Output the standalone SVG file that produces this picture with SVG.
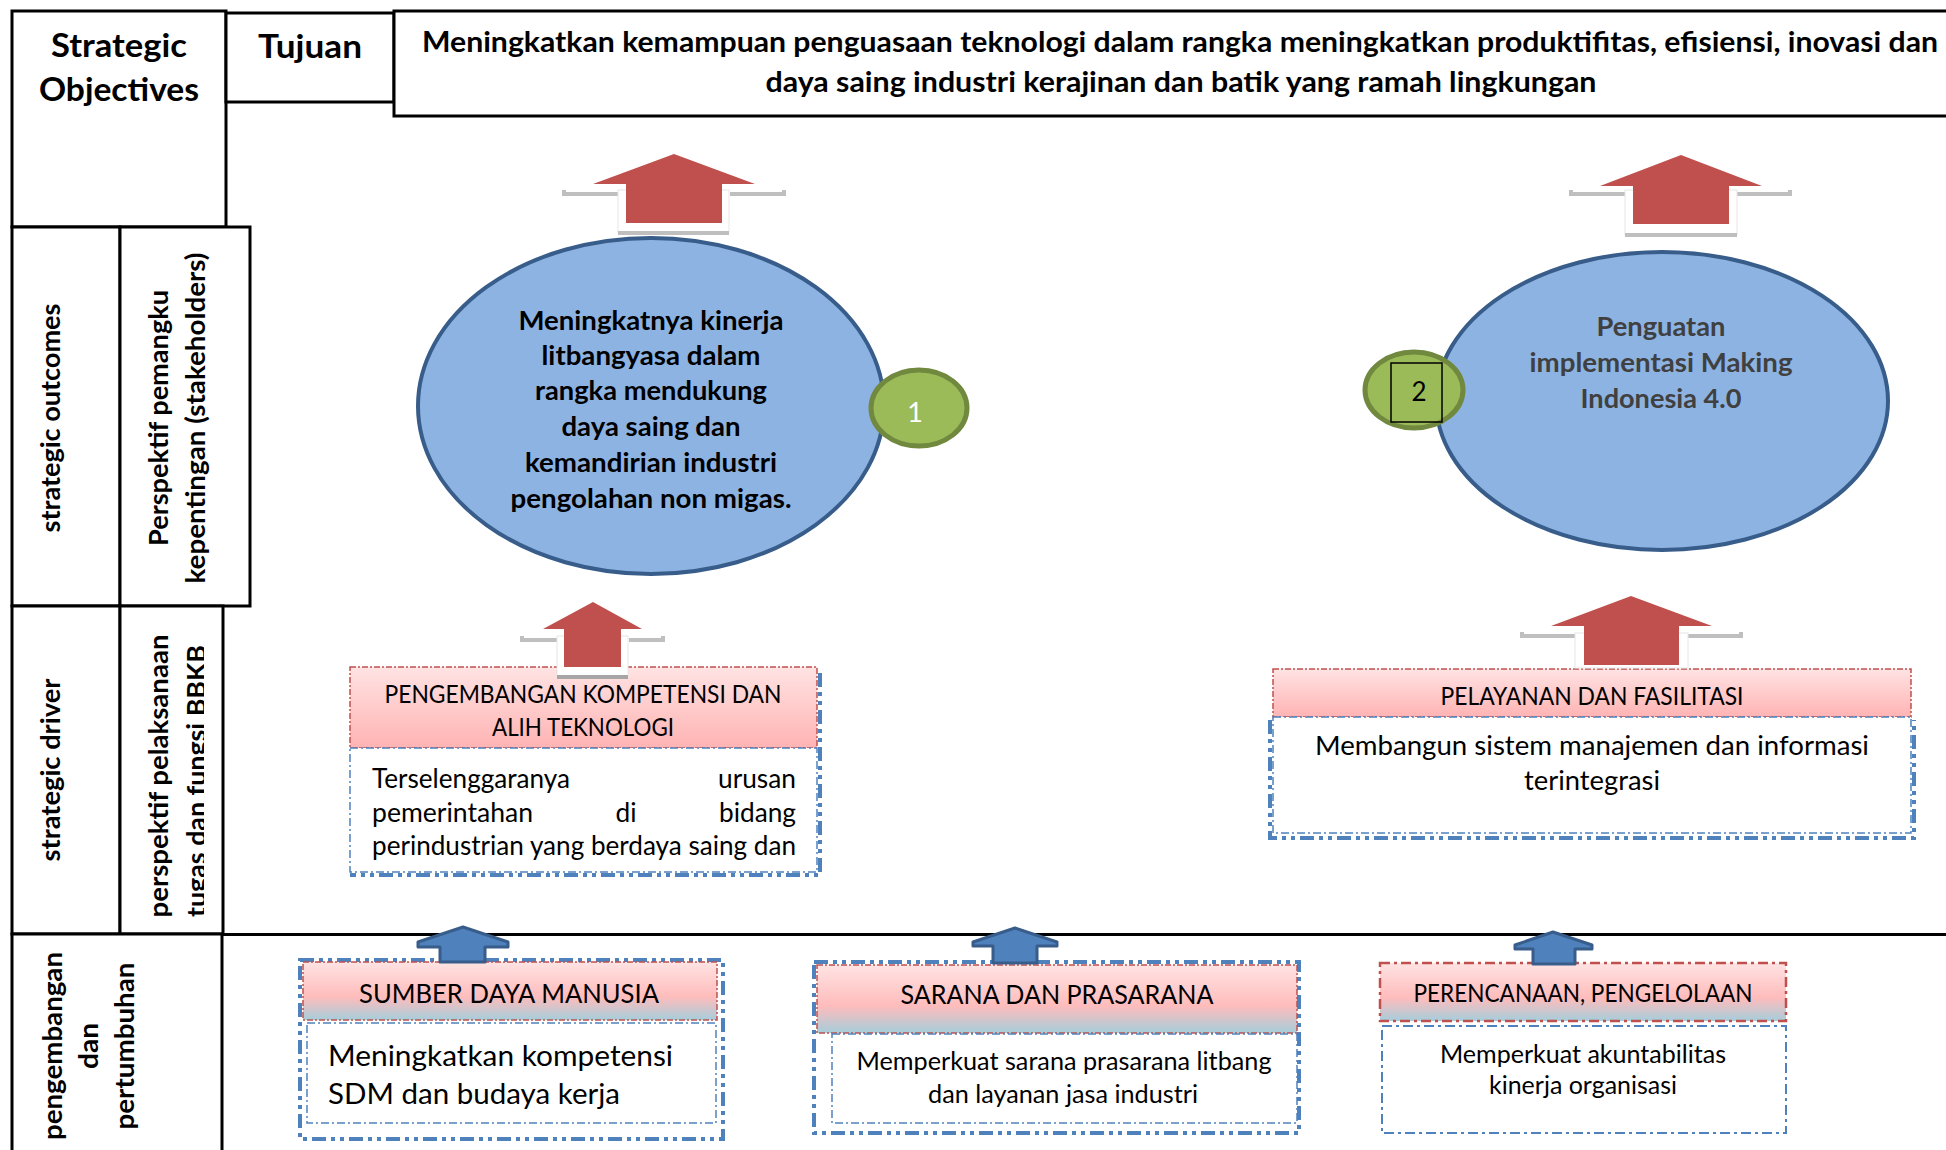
<svg xmlns="http://www.w3.org/2000/svg" width="1946" height="1150" viewBox="0 0 1946 1150">
<style>
text{font-family:Lato,"Liberation Sans",Arial,sans-serif;fill:#000}
.b{font-weight:bold}
.r{font-weight:normal}
.grid{fill:#fff;stroke:#000;stroke-width:3}
.ell{fill:#8DB3E2;stroke:#385D8A;stroke-width:4}
.badge{fill:#9BBB59;stroke:#71893F;stroke-width:5}
.ra{fill:#C0504D}
.sh{fill:none;stroke:#BFBFBF;stroke-width:4}
.wb{fill:#fff;stroke:#E6E6E6;stroke-width:1}
.thin{fill:#fff;stroke:#4F81BD;stroke-width:1.5;stroke-dasharray:8 3 2 3}
.redhd{stroke:#C0504D;stroke-width:1.5;stroke-dasharray:6 2 2 2}
.thick{fill:none;stroke:#4F81BD;stroke-width:4;stroke-dasharray:14 5 4 5 4 5}
.ba{fill:#4F81BD;stroke:#385D8A;stroke-width:3;stroke-linejoin:round}
</style>
<defs>
<linearGradient id="pk" x1="0" y1="0" x2="0" y2="1"><stop offset="0" stop-color="#FFE3E3"/><stop offset="1" stop-color="#FFB3B3"/></linearGradient>
<linearGradient id="pkb" x1="0" y1="0" x2="0" y2="1"><stop offset="0" stop-color="#FFE3E3"/><stop offset="0.6" stop-color="#FFBCBC"/><stop offset="1" stop-color="#A5CEDB"/></linearGradient>
<clipPath id="clipPel"><rect x="120" y="606" width="84" height="328"/></clipPath>
</defs>
<rect width="1946" height="1150" fill="#fff"/>

<g id="cell-strategic-objectives">
<rect class="grid" x="12" y="11" width="214" height="216"/>
<text class="b" x="119" y="57" font-size="33" text-anchor="middle" textLength="136" lengthAdjust="spacingAndGlyphs">Strategic</text>
<text class="b" x="119" y="101" font-size="33" text-anchor="middle" textLength="160" lengthAdjust="spacingAndGlyphs">Objectives</text>
</g>
<g id="cell-tujuan">
<rect class="grid" x="226" y="13" width="168" height="89"/>
<text class="b" x="310" y="58" font-size="32.5" text-anchor="middle" textLength="104" lengthAdjust="spacingAndGlyphs">Tujuan</text>
</g>
<g id="goal">
<rect class="grid" x="394" y="11" width="1560" height="105"/>
<text class="b" x="1180" y="52" font-size="29" text-anchor="middle" textLength="1516" lengthAdjust="spacingAndGlyphs">Meningkatkan kemampuan penguasaan teknologi dalam rangka meningkatkan produktifitas, efisiensi, inovasi dan</text>
<text class="b" x="1181" y="92" font-size="29" text-anchor="middle" textLength="831" lengthAdjust="spacingAndGlyphs">daya saing industri kerajinan dan batik yang ramah lingkungan</text>
</g>
<g id="cell-strategic-outcomes">
<rect class="grid" x="12" y="227" width="108" height="379"/>
<text class="b" font-size="26.5" text-anchor="middle" transform="translate(60,418) rotate(-90)" textLength="229" lengthAdjust="spacingAndGlyphs">strategic outcomes</text>
</g>
<g id="cell-perspektif-stakeholders">
<rect class="grid" x="120" y="227" width="130" height="379"/>
<text class="b" font-size="26.5" text-anchor="middle" transform="translate(168,418) rotate(-90)" textLength="256" lengthAdjust="spacingAndGlyphs">Perspektif pemangku</text>
<text class="b" font-size="26.5" text-anchor="middle" transform="translate(205,418) rotate(-90)" textLength="331" lengthAdjust="spacingAndGlyphs">kepentingan (stakeholders)</text>
</g>
<g id="cell-strategic-driver">
<rect class="grid" x="12" y="606" width="108" height="328"/>
<text class="b" font-size="26.5" text-anchor="middle" transform="translate(60,770) rotate(-90)" textLength="183" lengthAdjust="spacingAndGlyphs">strategic driver</text>
</g>
<g id="cell-perspektif-pelaksanaan">
<rect class="grid" x="120" y="606" width="103" height="328"/>
<g clip-path="url(#clipPel)">
<text class="b" font-size="26.5" text-anchor="middle" transform="translate(168,776) rotate(-90)" textLength="283" lengthAdjust="spacingAndGlyphs">perspektif pelaksanaan</text>
<text class="b" font-size="26.5" text-anchor="middle" transform="translate(206,781) rotate(-90)" textLength="272" lengthAdjust="spacingAndGlyphs">tugas dan fungsi BBKB</text>
</g>
</g>
<g id="cell-pengembangan">
<rect class="grid" x="12" y="934" width="210" height="230"/>
<text class="b" font-size="26.5" text-anchor="middle" transform="translate(62,1046) rotate(-90)" textLength="188" lengthAdjust="spacingAndGlyphs">pengembangan</text>
<text class="b" font-size="26.5" text-anchor="middle" transform="translate(98,1046) rotate(-90)" textLength="46" lengthAdjust="spacingAndGlyphs">dan</text>
<text class="b" font-size="26.5" text-anchor="middle" transform="translate(134,1046) rotate(-90)" textLength="167" lengthAdjust="spacingAndGlyphs">pertumbuhan</text>
</g>
<g id="row-divider">
<line x1="222" y1="934.5" x2="1946" y2="934.5" stroke="#000" stroke-width="3"/>
</g>

<g id="outcome-1">
<ellipse class="ell" cx="651" cy="406" rx="233" ry="168"/>
<text class="b" font-size="26.5" text-anchor="middle" x="651" y="330" textLength="265" lengthAdjust="spacingAndGlyphs">Meningkatnya kinerja</text>
<text class="b" font-size="26.5" text-anchor="middle" x="651" y="365" textLength="219" lengthAdjust="spacingAndGlyphs">litbangyasa dalam</text>
<text class="b" font-size="26.5" text-anchor="middle" x="651" y="400" textLength="232" lengthAdjust="spacingAndGlyphs">rangka mendukung</text>
<text class="b" font-size="26.5" text-anchor="middle" x="651" y="436" textLength="179" lengthAdjust="spacingAndGlyphs">daya saing dan</text>
<text class="b" font-size="26.5" text-anchor="middle" x="651" y="472" textLength="252" lengthAdjust="spacingAndGlyphs">kemandirian industri</text>
<text class="b" font-size="26.5" text-anchor="middle" x="651" y="508" textLength="281" lengthAdjust="spacingAndGlyphs">pengolahan non migas.</text>
<ellipse class="badge" cx="919" cy="408" rx="48" ry="38"/>
<text class="r" font-size="27" text-anchor="middle" x="915" y="422" style="fill:#fff">1</text>
</g>

<g id="outcome-2">
<ellipse class="ell" cx="1662" cy="401" rx="226" ry="149"/>
<text class="b" font-size="26.5" text-anchor="middle" x="1661" y="336" textLength="129" lengthAdjust="spacingAndGlyphs" style="fill:#404040">Penguatan</text>
<text class="b" font-size="26.5" text-anchor="middle" x="1661" y="372" textLength="263" lengthAdjust="spacingAndGlyphs" style="fill:#404040">implementasi Making</text>
<text class="b" font-size="26.5" text-anchor="middle" x="1661" y="408" textLength="161" lengthAdjust="spacingAndGlyphs" style="fill:#404040">Indonesia 4.0</text>
<ellipse class="badge" cx="1414" cy="390" rx="49" ry="38"/>
<rect x="1391" y="363" width="51" height="59" fill="none" stroke="#000" stroke-width="1.5"/>
<text class="r" font-size="26" text-anchor="middle" x="1419" y="401">2</text>
</g>

<g id="driver-1">
<rect x="350" y="667" width="467" height="81" fill="url(#pk)" class="redhd"/>
<rect class="thin" x="350" y="748" width="467" height="124"/>
<path class="thick" d="M820,673 V875 H350"/>
<text class="r" font-size="24.5" text-anchor="middle" x="583" y="703" textLength="397" lengthAdjust="spacingAndGlyphs">PENGEMBANGAN KOMPETENSI DAN</text>
<text class="r" font-size="24.5" text-anchor="middle" x="583" y="736" textLength="182" lengthAdjust="spacingAndGlyphs">ALIH TEKNOLOGI</text>
<text class="r" font-size="26" x="372" y="788" textLength="198" lengthAdjust="spacingAndGlyphs">Terselenggaranya</text>
<text class="r" font-size="26" x="796" y="788" text-anchor="end" textLength="78" lengthAdjust="spacingAndGlyphs">urusan</text>
<text class="r" font-size="26" x="372" y="822" textLength="161" lengthAdjust="spacingAndGlyphs">pemerintahan</text>
<text class="r" font-size="26" x="626" y="822" text-anchor="middle" textLength="21" lengthAdjust="spacingAndGlyphs">di</text>
<text class="r" font-size="26" x="796" y="822" text-anchor="end" textLength="77" lengthAdjust="spacingAndGlyphs">bidang</text>
<text class="r" font-size="26" x="372" y="855" textLength="424" lengthAdjust="spacingAndGlyphs">perindustrian yang berdaya saing dan</text>
</g>

<g id="driver-2">
<rect x="1273" y="669" width="638" height="48" fill="url(#pk)" class="redhd"/>
<rect class="thin" x="1273" y="717" width="638" height="116"/>
<path class="thick" d="M1270,720 V838 H1914 V720"/>
<text class="r" font-size="24.5" text-anchor="middle" x="1592" y="705" textLength="303" lengthAdjust="spacingAndGlyphs">PELAYANAN DAN FASILITASI</text>
<text class="r" font-size="26.5" text-anchor="middle" x="1592" y="755" textLength="554" lengthAdjust="spacingAndGlyphs">Membangun sistem manajemen dan informasi</text>
<text class="r" font-size="26.5" text-anchor="middle" x="1592" y="790" textLength="136" lengthAdjust="spacingAndGlyphs">terintegrasi</text>
</g>

<g id="growth-sdm">
<rect class="thick" x="300" y="960" width="423" height="179"/>
<rect x="303" y="962" width="414" height="58" fill="url(#pkb)" class="redhd"/>
<rect class="thin" x="307" y="1023" width="409" height="100"/>
<text class="r" font-size="26.5" text-anchor="middle" x="509" y="1003" textLength="300" lengthAdjust="spacingAndGlyphs">SUMBER DAYA MANUSIA</text>
<text class="r" font-size="29.5" x="328" y="1066" textLength="345" lengthAdjust="spacingAndGlyphs">Meningkatkan kompetensi</text>
<text class="r" font-size="29.5" x="328" y="1104" textLength="292" lengthAdjust="spacingAndGlyphs">SDM dan budaya kerja</text>
</g>

<g id="growth-sarana">
<rect class="thick" x="814" y="962" width="485" height="171"/>
<rect x="817" y="965" width="480" height="68" fill="url(#pkb)" class="redhd"/>
<rect class="thin" x="832" y="1034" width="465" height="89"/>
<text class="r" font-size="26.5" text-anchor="middle" x="1057" y="1004" textLength="313" lengthAdjust="spacingAndGlyphs">SARANA DAN PRASARANA</text>
<text class="r" font-size="24.5" text-anchor="middle" x="1064" y="1070" textLength="415" lengthAdjust="spacingAndGlyphs">Memperkuat sarana prasarana litbang</text>
<text class="r" font-size="24.5" text-anchor="middle" x="1063" y="1103" textLength="270" lengthAdjust="spacingAndGlyphs">dan layanan jasa industri</text>
</g>

<g id="growth-perencanaan">
<rect x="1380" y="963" width="406" height="58" fill="url(#pkb)" stroke="#C0504D" stroke-width="2.5" stroke-dasharray="10 4 3 4"/>
<rect x="1382" y="1026" width="404" height="107" fill="#fff" stroke="#4F81BD" stroke-width="2" stroke-dasharray="10 4 3 4"/>
<text class="r" font-size="24.5" text-anchor="middle" x="1583" y="1002" textLength="339" lengthAdjust="spacingAndGlyphs">PERENCANAAN, PENGELOLAAN</text>
<text class="r" font-size="24.5" text-anchor="middle" x="1583" y="1063" textLength="286" lengthAdjust="spacingAndGlyphs">Memperkuat akuntabilitas</text>
<text class="r" font-size="24.5" text-anchor="middle" x="1583" y="1094" textLength="188" lengthAdjust="spacingAndGlyphs">kinerja organisasi</text>
</g>

<g id="connectors">
<g id="arrow-outcome-1">
<path class="sh" d="M564,190 V194 H618"/><path class="sh" d="M730,194 H784 V190"/>
<rect class="wb" x="618" y="190" width="111" height="43"/>
<line class="sh" x1="618" y1="233" x2="729" y2="233"/>
<polygon class="ra" points="674,154 755,184 722,184 722,223 626,223 626,184 593,184"/>
</g>
<g id="arrow-outcome-2">
<path class="sh" d="M1571,190 V194 H1625"/><path class="sh" d="M1737,194 H1790 V190"/>
<rect class="wb" x="1625" y="190" width="112" height="45"/>
<line class="sh" x1="1625" y1="235" x2="1737" y2="235"/>
<polygon class="ra" points="1681,155 1762,186 1729,186 1729,224 1633,224 1633,186 1600,186"/>
</g>
<g id="arrow-driver-1">
<path class="sh" d="M522,636 V640 H557"/><path class="sh" d="M629,640 H663 V636"/>
<rect class="wb" x="557" y="636" width="71" height="41"/>
<line x1="557" y1="677" x2="628" y2="677" stroke="#A6A6A6" stroke-width="4"/>
<polygon class="ra" points="593,602 642,629 621,629 621,667 564,667 564,629 543,629"/>
</g>
<g id="arrow-driver-2">
<path class="sh" d="M1522,632 V636 H1575"/><path class="sh" d="M1688,636 H1741 V632"/>
<rect class="wb" x="1575" y="633" width="113" height="35"/>
<polygon class="ra" points="1631,596 1712,626 1679,626 1679,665 1584,665 1584,626 1551,626"/>
</g>
<polygon id="arrow-sdm" class="ba" points="463,927 508,942 508,947 485,947 485,962 440,962 440,947 418,947 418,942"/>
<polygon id="arrow-sarana" class="ba" points="1015,928 1057,942 1057,946 1037,946 1037,963 993,963 993,946 973,946 973,942"/>
<polygon id="arrow-perencanaan" class="ba" points="1553,932 1592,945 1592,949 1575,949 1575,964 1533,964 1533,949 1515,949 1515,945"/>
</g>
</svg>
